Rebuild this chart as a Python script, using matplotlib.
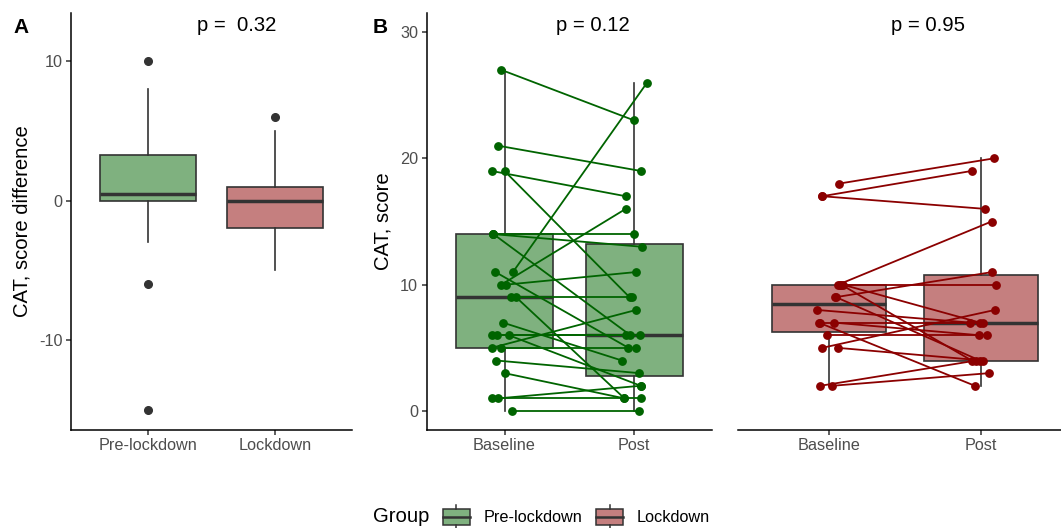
import matplotlib
matplotlib.use('Agg')
import matplotlib.pyplot as plt
from matplotlib.patches import Rectangle
from matplotlib.lines import Line2D
from matplotlib.legend_handler import HandlerBase
import numpy as np

plt.rcParams['font.family'] = ['Liberation Sans', 'DejaVu Sans']
plt.rcParams['axes.unicode_minus'] = False

# CAT scores, one entry per patient (baseline -> post), pre-lockdown group
pre_base = [27, 21, 19, 19, 14, 14, 14, 11, 11, 10, 10, 9, 9, 7, 6, 6, 6, 5, 5, 4, 3, 1, 1, 0]
pre_post = [23, 19, 17, 9, 14, 13, 6, 26, 5, 16, 11, 9, 1, 4, 6, 6, 2, 8, 5, 3, 1, 1, 2, 0]
# horizontal jitter of the dots (category units), as seen in the picture
pre_base_jit = [-0.025, -0.05, -0.10, 0.0, -0.085, -0.085, -0.085, 0.065, -0.07, -0.025, 0.01, 0.05,
                0.09, -0.013, -0.10, -0.057, 0.033, -0.10, -0.03, -0.064, 0.0, -0.10, -0.05, 0.06]
pre_post_jit = [0.0, 0.05, -0.065, -0.035, 0.0, 0.06, -0.03, 0.10, -0.044, -0.065, 0.015, -0.018,
                -0.075, -0.095, -0.065, 0.047, 0.05, 0.015, 0.015, 0.04, -0.075, 0.05, 0.05, 0.035]

# lockdown group
lock_base = [18, 17, 17, 10, 10, 10, 10, 9, 9, 8, 7, 7, 7, 6, 5, 5, 2, 2]
lock_post = [20, 19, 16, 15, 10, 4, 7, 11, 4, 7, 2, 7, 6, 6, 4, 8, 4, 3]
lock_base_jit = [0.066, -0.046, -0.046, 0.06, 0.07, 0.08, 0.09, 0.038, 0.048, -0.079, -0.068, -0.06,
                 0.031, -0.017, 0.059, -0.046, -0.057, 0.022]
lock_post_jit = [0.088, -0.061, 0.026, 0.07, 0.099, -0.061, -0.007, 0.075, -0.007, -0.072, -0.04, 0.015,
                 -0.011, 0.037, 0.011, 0.092, -0.03, 0.055]

groups = ['Pre-lockdown', 'Lockdown']
times = ['Baseline', 'Post']
p_values = ['p =  0.32', 'p = 0.12', 'p = 0.95']

fill = {'Pre-lockdown': '#7FB17F', 'Lockdown': '#C57F7F'}
dot = {'Pre-lockdown': '#006400', 'Lockdown': '#8B0000'}
EDGE = '#333333'

W, H = 1061, 528
fig = plt.figure(figsize=(W / 100, H / 100), dpi=100)
bot, top = 98 / H, 417 / H
axA = fig.add_axes([71 / W, bot, 281 / W, top])
axB1 = fig.add_axes([426.7 / W, bot, 285.3 / W, top])
axB2 = fig.add_axes([738 / W, bot, 334 / W, top])


def draw_box(ax, data, pos, fc, fliers):
    ax.boxplot(data, positions=[pos], widths=0.75, patch_artist=True, showcaps=False,
               showfliers=fliers, whis=1.5,
               boxprops=dict(facecolor=fc, edgecolor=EDGE, linewidth=1.2),
               medianprops=dict(color=EDGE, linewidth=2.5),
               whiskerprops=dict(color=EDGE, linewidth=1.2),
               flierprops=dict(marker='o', markerfacecolor=EDGE, markeredgecolor=EDGE,
                               markersize=5.5))


def style(ax, left=True):
    for s in ['top', 'right']:
        ax.spines[s].set_visible(False)
    ax.spines['bottom'].set_linewidth(1.1)
    ax.spines['left'].set_linewidth(1.1)
    ax.tick_params(axis='both', length=3.6, width=1.1, color=EDGE, labelcolor='#4D4D4D',
                   labelsize=11.7, pad=2.5)
    if not left:
        ax.spines['left'].set_visible(False)
        ax.tick_params(axis='y', left=False, labelleft=False)
    ax.set_xlim(0.4, 2.6)


# panel A: score difference (baseline - post)
diff_pre = np.array(pre_base) - np.array(pre_post)
diff_lock = np.array(lock_base) - np.array(lock_post)
draw_box(axA, diff_pre, 1, fill['Pre-lockdown'], True)
draw_box(axA, diff_lock, 2, fill['Lockdown'], True)
style(axA)
axA.set_ylim(-16.4, 13.4)
axA.set_yticks([-10, 0, 10])
axA.set_xticks([1, 2])
axA.set_xticklabels(groups)
axA.set_ylabel('CAT, score difference', fontsize=14.6, labelpad=5.5)

# panel B: paired scores
for ax, g, b, p, bj, pj in [(axB1, 'Pre-lockdown', pre_base, pre_post, pre_base_jit, pre_post_jit),
                            (axB2, 'Lockdown', lock_base, lock_post, lock_base_jit, lock_post_jit)]:
    draw_box(ax, b, 1, fill[g], False)
    draw_box(ax, p, 2, fill[g], False)
    for i in range(len(b)):
        ax.plot([1 + bj[i], 2 + pj[i]], [b[i], p[i]], color=dot[g], lw=1.3,
                marker='o', ms=5.3, zorder=3)
    style(ax, left=(ax is axB1))
    ax.set_ylim(-1.5, 31.5)
    ax.set_xticks([1, 2])
    ax.set_xticklabels(times)
axB1.set_yticks([0, 10, 20, 30])
axB1.set_ylabel('CAT, score', fontsize=14.6, labelpad=5.5)

# labels
fig.text(13 / W, 1 - 33 / H, 'A', fontsize=15, fontweight='bold', va='baseline')
fig.text(373 / W, 1 - 33 / H, 'B', fontsize=15, fontweight='bold', va='baseline')
for xc, txt in zip([236.7, 592.5, 928], p_values):
    fig.text(xc / W, 1 - 31 / H, txt, fontsize=14.6, ha='center', va='baseline')


class BoxKey(HandlerBase):
    def create_artists(self, legend, orig, xd, yd, width, height, fontsize, trans):
        x0 = -xd
        y0 = -yd
        xm = x0 + width / 2
        box = Rectangle((x0, y0), width, height, facecolor=orig.get_facecolor(),
                        edgecolor=EDGE, lw=1.1, transform=trans)
        med = Line2D([x0, x0 + width], [y0 + height / 2] * 2, color=EDGE, lw=1.8, transform=trans)
        wu = Line2D([xm, xm], [y0 + height, y0 + height + 2.5], color=EDGE, lw=1.1, transform=trans)
        wd = Line2D([xm, xm], [y0, y0 - 2.5], color=EDGE, lw=1.1, transform=trans)
        return [box, med, wu, wd]


handles = [Rectangle((0, 0), 1, 1, facecolor=fill[g]) for g in groups]
fig.text(373 / W, 1 - 517 / H, 'Group', fontsize=14.6, va='center')
fig.legend(handles, groups, handler_map={Rectangle: BoxKey()}, ncol=2, frameon=False,
           loc='center left', bbox_to_anchor=(443 / W, 1 - 517 / H), bbox_transform=fig.transFigure,
           borderpad=0, borderaxespad=0, handlelength=1.66, handleheight=1.15,
           handletextpad=0.84, columnspacing=0.84, fontsize=11.7)

fig.savefig('out.png', dpi=100)
